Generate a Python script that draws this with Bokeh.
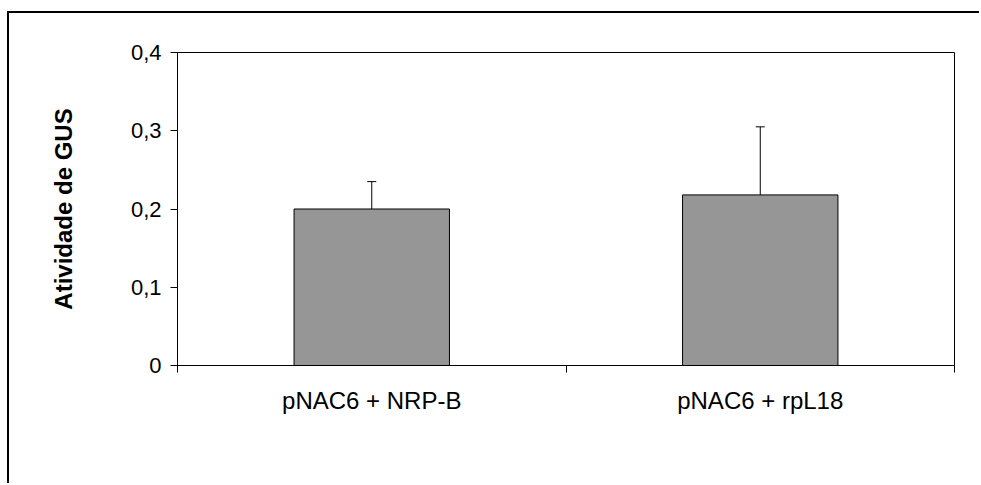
from bokeh.plotting import figure
from bokeh.models import Range1d, FixedTicker, ColumnDataSource, Whisker, TeeHead
from bokeh.embed import file_html
from bokeh.resources import INLINE

categories = ["pNAC6 + NRP-B", "pNAC6 + rpL18"]
values = [0.200, 0.218]
upper = [0.235, 0.305]
y_ticks = [0, 0.1, 0.2, 0.3, 0.4]
y_tick_labels = ["0", "0,1", "0,2", "0,3", "0,4"]

xpos = [i + 0.5 for i in range(len(categories))]
src = ColumnDataSource(dict(x=xpos, top=values, upper=upper, cat=categories))

p = figure(width=972, height=472, output_backend="svg", toolbar_location=None,
           x_range=Range1d(0, len(categories)), y_range=Range1d(0, 0.4))
p.styles = {"border-left": "2px solid black", "border-top": "2px solid black",
            "margin-left": "7px", "margin-top": "11px"}
p.min_border_left = 168
p.min_border_top = 39
p.min_border_right = 27
p.min_border_bottom = 120
p.background_fill_color = "white"
p.border_fill_color = "white"
p.outline_line_color = "black"
p.outline_line_width = 1
p.grid.visible = False

p.vbar(x="x", top="top", width=0.4, bottom=0, source=src,
       fill_color="#969696", line_color="black", line_width=1)

w = Whisker(base="x", upper="upper", lower="top", source=src,
            line_color="black", line_width=1,
            upper_head=TeeHead(size=9, line_color="black", line_width=1),
            lower_head=None)
p.add_layout(w)

# y axis
p.yaxis.ticker = FixedTicker(ticks=y_ticks, minor_ticks=[])
p.yaxis.major_label_overrides = {t: l for t, l in zip(y_ticks, y_tick_labels)}
p.yaxis.major_tick_in = 0
p.yaxis.major_tick_out = 7
p.yaxis.major_label_standoff = 9
p.yaxis.major_label_text_font = "Liberation Sans"
p.yaxis.major_label_text_font_size = "22px"
p.yaxis.major_label_text_color = "black"
p.yaxis.axis_line_color = "black"
p.yaxis.major_tick_line_color = "black"
p.yaxis.axis_label = "Atividade de GUS"
p.yaxis.axis_label_text_font = "Liberation Sans"
p.yaxis.axis_label_text_font_style = "bold"
p.yaxis.axis_label_text_font_size = "24px"
p.yaxis.axis_label_text_color = "black"
p.yaxis.axis_label_standoff = 51

# x axis
p.xaxis.ticker = FixedTicker(ticks=xpos, minor_ticks=[float(i) for i in range(len(categories) + 1)])
p.xaxis.major_label_overrides = {x: c for x, c in zip(xpos, categories)}
p.xaxis.major_tick_in = 0
p.xaxis.major_tick_out = 0
p.xaxis.minor_tick_in = 0
p.xaxis.minor_tick_out = 7
p.xaxis.minor_tick_line_color = "black"
p.xaxis.axis_line_color = "black"
p.xaxis.major_label_standoff = 14
p.xaxis.major_label_text_font = "Liberation Sans"
p.xaxis.major_label_text_font_size = "24px"
p.xaxis.major_label_text_color = "black"

open("out.html", "w").write(file_html(p, INLINE))
